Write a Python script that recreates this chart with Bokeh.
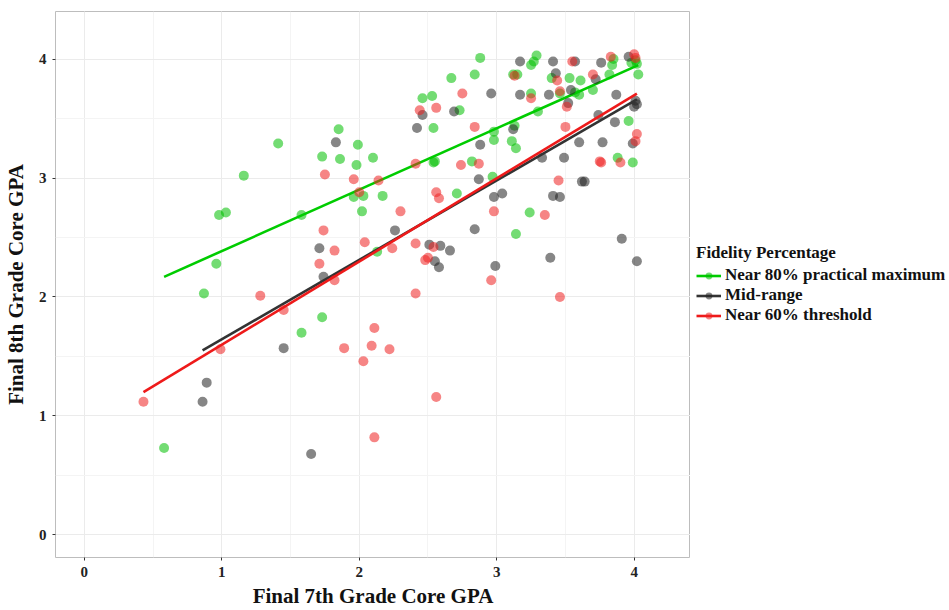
from bokeh.plotting import figure
from bokeh.layouts import row
from bokeh.models import Legend, LegendItem, SingleIntervalTicker, Range1d
from bokeh.embed import file_html
from bokeh.resources import INLINE

# ---------------- data ----------------
green_x = [0.58, 0.87, 0.96, 0.98, 1.03, 1.16, 1.41, 1.58, 1.58, 1.73, 1.73, 1.85, 1.86, 1.99, 1.98,
           1.96, 2.03, 2.02, 2.10, 2.13, 2.17, 2.46, 2.53, 2.54, 2.54, 2.55, 2.67, 2.71, 2.73, 2.84,
           2.88, 2.82, 2.98, 2.98, 2.97, 3.11, 3.14, 3.13, 3.14, 3.12, 3.15, 3.24, 3.25, 3.27, 3.29,
           3.25, 3.30, 3.40, 3.46, 3.53, 3.57, 3.60, 3.61, 3.70, 3.82, 3.84, 3.85, 3.88, 3.96, 3.99,
           3.98, 4.01, 4.02, 4.03]
green_y = [0.73, 2.03, 2.28, 2.69, 2.71, 3.02, 3.29, 2.69, 1.70, 3.18, 1.83, 3.41, 3.16, 3.28, 3.11,
           2.84, 2.85, 2.72, 3.17, 2.38, 2.85, 3.67, 3.69, 3.42, 3.13, 3.14, 3.84, 2.87, 3.57, 3.87,
           4.01, 3.14, 3.39, 3.32, 3.01, 3.31, 3.25, 3.44, 2.53, 3.87, 3.87, 2.71, 3.95, 3.98, 4.03,
           3.71, 3.56, 3.84, 3.71, 3.84, 3.72, 3.70, 3.82, 3.74, 3.87, 3.95, 4.00, 3.17, 3.48, 3.13,
           3.97, 3.99, 3.96, 3.87]

gray_x = [0.86, 0.89, 1.45, 1.65, 1.71, 1.74, 1.83, 2.26, 2.42, 2.46, 2.51, 2.55, 2.59, 2.58, 2.66,
          2.69, 2.84, 2.87, 2.88, 2.96, 2.98, 3.04, 2.99, 3.12, 3.17, 3.17, 3.33, 3.39, 3.41, 3.43,
          3.38, 3.41, 3.46, 3.49, 3.52, 3.54, 3.57, 3.60, 3.62, 3.64, 3.72, 3.74, 3.76, 3.77, 3.86,
          3.87, 3.91, 3.96, 3.99, 4.00, 4.01, 4.02, 4.02]
gray_y = [1.12, 1.28, 1.57, 0.68, 2.41, 2.17, 3.30, 2.56, 3.42, 3.53, 2.44, 2.30, 2.43, 2.25, 2.39,
          3.56, 2.57, 2.99, 3.28, 3.71, 2.84, 2.87, 2.26, 3.41, 3.98, 3.70, 3.17, 2.33, 3.98, 3.88,
          3.70, 2.85, 2.84, 3.17, 3.63, 3.74, 3.98, 3.30, 2.97, 2.97, 3.83, 3.53, 3.97, 3.30, 3.47,
          3.70, 2.49, 4.02, 3.29, 3.60, 3.65, 3.62, 2.30]

red_x = [0.43, 0.99, 1.28, 1.45, 1.71, 1.74, 1.75, 1.82, 1.82, 1.89, 1.96, 2.00, 2.04, 2.03, 2.09,
         2.11, 2.11, 2.14, 2.22, 2.24, 2.30, 2.41, 2.41, 2.41, 2.44, 2.48, 2.50, 2.54, 2.56, 2.56,
         2.58, 2.56, 2.74, 2.75, 2.84, 2.87, 2.96, 2.98, 3.13, 3.25, 3.35, 3.44, 3.45, 3.46, 3.46,
         3.50, 3.51, 3.55, 3.70, 3.75, 3.76, 3.83, 3.90, 4.00, 4.01, 4.02, 4.01]
red_y = [1.12, 1.56, 2.01, 1.89, 2.28, 2.56, 3.03, 2.39, 2.14, 1.57, 2.99, 2.88, 2.46, 1.46, 1.59,
         1.74, 0.82, 2.98, 1.56, 2.41, 2.72, 2.03, 2.45, 3.12, 3.57, 2.31, 2.33, 2.42, 3.59, 2.88,
         2.83, 1.16, 3.11, 3.71, 3.43, 3.12, 2.14, 2.72, 3.86, 3.67, 2.69, 3.82, 2.98, 2.00, 3.73,
         3.43, 3.60, 3.98, 3.87, 3.14, 3.13, 4.02, 3.13, 4.04, 4.01, 3.37, 3.31]

# linear fit lines (slope, intercept)
green_fit = (0.516, 1.87)
gray_fit = (0.668, 0.976)
red_fit = (0.699, 0.90)

x_ticks = [0, 1, 2, 3, 4]
y_ticks = [0, 1, 2, 3, 4]

series = [
    ("Near 80% practical maximum", green_x, green_y, green_fit, "#00C000", "#00CC00"),
    ("Mid-range", gray_x, gray_y, gray_fit, "#222222", "#333333"),
    ("Near 60% threshold", red_x, red_y, red_fit, "#EE2020", "#EE1A1A"),
]

FONT = "Liberation Serif"

p = figure(width=690, height=610,
           x_range=Range1d(-0.21, 4.41), y_range=Range1d(-0.19, 4.40),
           output_backend="svg", toolbar_location=None,
           min_border_left=52, min_border_right=0,
           min_border_top=11, min_border_bottom=52)

p.background_fill_color = "white"
p.border_fill_color = "white"
p.outline_line_color = "#bdbdbd"
p.outline_line_width = 1

# separate panel that only carries the legend (to the right of the plot);
# its ranges keep the copied series out of view, so only the legend shows
lg = figure(width=259, height=610, x_range=Range1d(10, 11), y_range=Range1d(10, 11),
            output_backend="svg", toolbar_location=None,
            x_axis_type=None, y_axis_type=None,
            min_border_left=0, min_border_right=0, min_border_top=0, min_border_bottom=0)
lg.outline_line_color = None
lg.grid.visible = False
lg.background_fill_color = "white"
lg.border_fill_color = "white"

items = []
for name, xs, ys, fit, fill, lcol in series:
    p.scatter(xs, ys, size=10, fill_color=fill, fill_alpha=0.55, line_color=None)
    slope, icpt = fit
    x0, x1 = min(xs), max(xs)
    fx = [x0, x1]
    fy = [icpt + slope * x0, icpt + slope * x1]
    p.line(fx, fy, line_color=lcol, line_width=2.6)
    kl = lg.line(fx, fy, line_color=lcol, line_width=2.6)
    ks = lg.scatter(xs, ys, size=10, fill_color=fill, fill_alpha=0.55, line_color=None)
    items.append(LegendItem(label=name, renderers=[kl, ks]))

for ax, ticks in ((p.xaxis[0], x_ticks), (p.yaxis[0], y_ticks)):
    ax.ticker = SingleIntervalTicker(interval=1, num_minor_ticks=2)
    ax.axis_line_color = None
    ax.major_tick_line_color = "#333333"
    ax.major_tick_out = 3
    ax.major_tick_in = 0
    ax.minor_tick_line_color = None
    ax.major_label_text_font = FONT
    ax.major_label_text_font_style = "bold"
    ax.major_label_text_font_size = "15px"
    ax.major_label_text_color = "#222222"
    ax.axis_label_text_font = FONT
    ax.axis_label_text_font_style = "bold"
    ax.axis_label_text_font_size = "21px"
    ax.axis_label_text_color = "#111111"

p.xaxis.axis_label = "Final 7th Grade Core GPA"
p.yaxis.axis_label = "Final 8th Grade Core GPA"
p.xaxis.major_label_standoff = 5
p.xaxis.axis_label_standoff = 4
p.yaxis.major_label_standoff = 5
p.yaxis.axis_label_standoff = 8

for g in p.grid:
    g.grid_line_color = "#ebebeb"
    g.grid_line_width = 1
    g.minor_grid_line_color = "#f4f4f4"
    g.minor_grid_line_width = 1

legend = Legend(items=items, location=(6, 232), title="Fidelity Percentage")
legend.title_text_font = FONT
legend.title_text_font_style = "bold"
legend.title_text_font_size = "17px"
legend.title_text_color = "#111111"
legend.title_standoff = 2
legend.label_text_font = FONT
legend.label_text_font_style = "bold"
legend.label_text_font_size = "17px"
legend.label_text_color = "#111111"
legend.glyph_width = 25
legend.glyph_height = 17
legend.label_height = 17
legend.label_standoff = 4
legend.spacing = 0
legend.padding = 5
legend.margin = 0
legend.border_line_color = None
legend.background_fill_alpha = 0
lg.add_layout(legend, "center")

layout = row(p, lg)
open("out.html", "w").write(file_html(layout, INLINE))
